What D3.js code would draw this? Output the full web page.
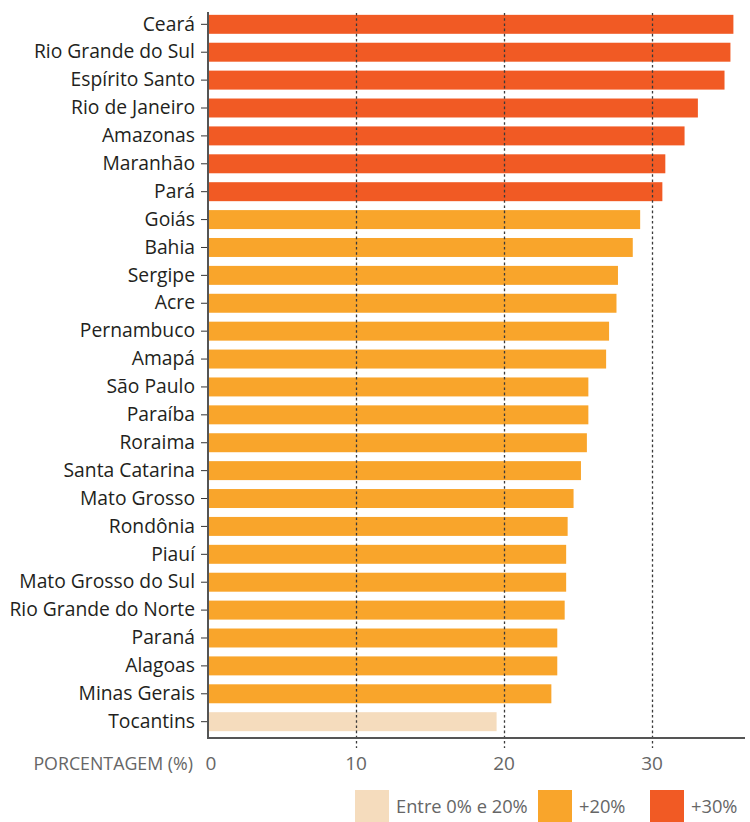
<!DOCTYPE html>
<html>
<head>
<meta charset="utf-8">
<script src="https://cdn.jsdelivr.net/npm/d3@7"></script>
<style>
  body { margin: 0; background: #fff; }
  svg { display: block; font-family: "Open Sans", sans-serif; }
</style>
</head>
<body>
<svg id="chart" width="750" height="822"></svg>
<script>
// states, top to bottom
const states = [
  "Ceará", "Rio Grande do Sul", "Espírito Santo", "Rio de Janeiro", "Amazonas",
  "Maranhão", "Pará", "Goiás", "Bahia", "Sergipe", "Acre", "Pernambuco", "Amapá",
  "São Paulo", "Paraíba", "Roraima", "Santa Catarina", "Mato Grosso", "Rondônia",
  "Piauí", "Mato Grosso do Sul", "Rio Grande do Norte", "Paraná", "Alagoas",
  "Minas Gerais", "Tocantins"
];
// percentages
const values = [
  35.5, 35.3, 34.9, 33.1, 32.2,
  30.9, 30.7, 29.2, 28.7, 27.7, 27.6, 27.1, 26.9,
  25.7, 25.7, 25.6, 25.2, 24.7, 24.3,
  24.2, 24.2, 24.1, 23.6, 23.6,
  23.2, 19.5
];
const xTicks = [0, 10, 20, 30];
const gridTicks = [10, 20, 30];
const legendLabels = ["Entre 0% e 20%", "+20%", "+30%"];
const legendColors = ["#f5dcbd", "#f9a52b", "#f15a24"];

const data = states.map((s, i) => ({ state: s, value: values[i] }));

function colorFor(v) {
  if (v >= 30) return legendColors[2];
  if (v >= 20) return legendColors[1];
  return legendColors[0];
}

const svg = d3.select("#chart");

const x = d3.scaleLinear().domain([0, 36]).range([208, 208 + 36 * 14.8]);
const y = d3.scaleBand()
  .domain(states)
  .range([14, 732])
  .paddingInner(0.32)
  .paddingOuter(0.03);

// bars
svg.append("g")
  .selectAll("rect")
  .data(data)
  .enter()
  .append("rect")
  .attr("x", x(0))
  .attr("y", d => y(d.state))
  .attr("width", d => x(d.value) - x(0))
  .attr("height", y.bandwidth())
  .attr("fill", d => colorFor(d.value));

// dotted grid lines, over the bars
svg.append("g")
  .selectAll("line")
  .data(gridTicks)
  .enter()
  .append("line")
  .attr("x1", d => Math.round(x(d)) + 0.5)
  .attr("x2", d => Math.round(x(d)) + 0.5)
  .attr("y1", 13)
  .attr("y2", 748)
  .attr("stroke", "#3a3a3a")
  .attr("stroke-width", 1.3)
  .attr("stroke-dasharray", "2.6,2.6");

// y axis (labels + small ticks)
const yAxis = svg.append("g")
  .attr("transform", `translate(${x(0)},0)`)
  .call(d3.axisLeft(y).tickSize(7).tickPadding(6));
yAxis.select(".domain").remove();
yAxis.selectAll(".tick line").attr("stroke", "#333").attr("stroke-width", 1);
yAxis.selectAll(".tick text")
  .attr("fill", "#231f20")
  .style("font-size", "19.3px")
  .style("font-family", "'Open Sans', sans-serif");

// axis lines
svg.append("path")
  .attr("d", `M${x(0)},12 V738 H745`)
  .attr("fill", "none")
  .attr("stroke", "#555")
  .attr("stroke-width", 2);

// x tick labels
svg.append("g")
  .selectAll("text")
  .data(xTicks)
  .enter()
  .append("text")
  .attr("x", d => d === 0 ? x(d) + 3 : x(d))
  .attr("y", 770)
  .attr("text-anchor", "middle")
  .attr("fill", "#666")
  .style("font-size", "19px")
  .text(d => d);

svg.append("text")
  .attr("x", 193)
  .attr("y", 770)
  .attr("text-anchor", "end")
  .attr("fill", "#666")
  .style("font-size", "17.8px")
  .text("PORCENTAGEM (%)");

// legend
const legendX = [355, 538, 650];
const legend = svg.append("g")
  .selectAll("g")
  .data(legendLabels)
  .enter()
  .append("g")
  .attr("transform", (d, i) => `translate(${legendX[i]},790)`);

legend.append("rect")
  .attr("width", 34)
  .attr("height", 33)
  .attr("fill", (d, i) => legendColors[i]);

legend.append("text")
  .attr("x", 41)
  .attr("y", 23)
  .attr("fill", "#666")
  .style("font-size", "18.3px")
  .text(d => d);
</script>
</body>
</html>
